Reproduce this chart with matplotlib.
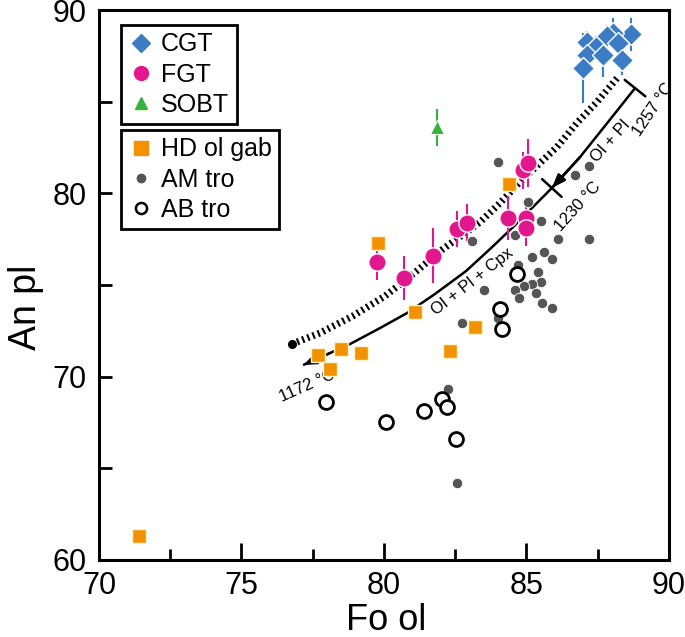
import matplotlib
matplotlib.use('Agg')
import matplotlib.pyplot as plt
from matplotlib.lines import Line2D
import numpy as np

plt.rcParams['font.family'] = ['Liberation Sans', 'DejaVu Sans']

# ---------------- data ----------------
cgt_fo = [88.67, 88.04, 87.82, 87.12, 87.44, 88.21, 87.12, 87.68, 88.35, 86.98]
cgt_an = [88.69, 88.75, 88.58, 88.25, 87.98, 88.20, 87.55, 87.55, 87.27, 86.84]
cgt_err = [0.9, 0.8, 0.6, 0.6, 0.6, 0.6, 0.8, 1.2, 0.8, 1.9]

fgt_fo = [79.75, 80.70, 81.72, 82.56, 82.90, 84.35, 85.00, 85.00, 84.88, 85.05]
fgt_an = [76.25, 75.40, 76.60, 78.05, 78.40, 78.65, 78.65, 78.10, 81.25, 81.65]
fgt_err = [1.0, 1.2, 1.5, 1.0, 1.0, 1.2, 1.1, 1.0, 1.0, 1.3]

sobt_fo = [81.86]
sobt_an = [83.6]
sobt_err = [1.0]

hd_fo = [71.4, 77.7, 78.5, 79.2, 78.1, 82.3, 83.2, 81.1, 79.8, 84.4]
hd_an = [61.3, 71.2, 71.5, 71.3, 70.4, 71.4, 72.7, 73.5, 77.3, 80.5]

am_fo = [84.0, 86.7, 87.2, 85.05, 85.5, 83.1, 84.6, 86.1, 87.2, 85.2, 85.6, 85.9,
         84.7, 85.4, 85.5, 85.2, 84.9, 84.6, 84.75, 85.35, 85.55, 85.9, 83.5, 84.0,
         82.75, 82.25, 82.55]
am_an = [81.7, 81.0, 81.5, 79.5, 78.5, 77.4, 77.7, 77.5, 77.5, 76.5, 76.8, 76.4,
         76.1, 75.7, 75.15, 75.05, 74.95, 74.7, 74.3, 74.55, 74.0, 73.75, 74.7, 73.2,
         72.9, 69.3, 64.2]

ab_fo = [84.67, 84.07, 84.14, 77.96, 80.07, 81.4, 82.04, 82.2, 82.53]
ab_an = [75.6, 73.7, 72.6, 68.6, 67.5, 68.1, 68.8, 68.35, 66.6]

# model curve (dotted)
model_fo = [76.77, 77.75, 78.91, 80.04, 81.02, 82.07, 83.37, 84.07, 84.77, 85.47,
            86.07, 86.77, 87.47, 88.21]
model_an = [71.78, 72.38, 73.31, 74.40, 75.60, 76.96, 78.43, 79.47, 80.62, 81.65,
            82.53, 83.84, 84.98, 86.34]

# crystallisation path (solid arrow)
path_fo = [77.16, 78.11, 78.81, 79.86, 80.81, 81.79, 82.88, 83.72, 84.53, 85.89,
           86.88, 87.75, 88.81]
path_an = [70.63, 71.29, 71.78, 72.65, 73.47, 74.51, 75.76, 76.96, 78.16, 80.29,
           81.98, 83.67, 85.74]
i1230 = 9

C_CGT = '#3B7CC4'
C_FGT = '#E2178D'
C_SOBT = '#36B33A'
C_HD = '#F39200'
C_AM = '#555555'

fig = plt.figure(figsize=(6.85, 6.37), dpi=100)
ax = fig.add_axes([0.1445, 0.1209, 0.8321, 0.8634])
ax.set_xlim(70, 90)
ax.set_ylim(60, 90)

# solid path
ax.plot(path_fo[:-1], path_an[:-1], color='black', lw=1.8, zorder=2,
        solid_capstyle='butt')
ax.annotate('', xy=(path_fo[0], path_an[0]), xytext=(path_fo[1], path_an[1]),
            arrowprops=dict(arrowstyle='-|>,head_length=0.8,head_width=0.3',
                            color='black', lw=1.8, shrinkA=0, shrinkB=0), zorder=2)
ax.annotate('', xy=(path_fo[-1], path_an[-1]), xytext=(path_fo[-2], path_an[-2]),
            arrowprops=dict(arrowstyle='|-|,widthA=0,widthB=0.95',
                            color='black', lw=1.8, shrinkA=0, shrinkB=0), zorder=2)
ax.annotate('', xy=(path_fo[i1230 + 1], path_an[i1230 + 1]),
            xytext=(path_fo[i1230], path_an[i1230]),
            arrowprops=dict(arrowstyle='|-|,widthA=0.95,widthB=0',
                            color='black', lw=1.8, shrinkA=0, shrinkB=0), zorder=2)
mx = path_fo[i1230] + 0.6 * (path_fo[i1230 + 1] - path_fo[i1230])
my = path_an[i1230] + 0.6 * (path_an[i1230 + 1] - path_an[i1230])
ax.annotate('', xy=(path_fo[i1230], path_an[i1230]), xytext=(mx, my),
            arrowprops=dict(arrowstyle='-|>,head_length=0.8,head_width=0.3',
                            color='black', lw=1.8, shrinkA=0, shrinkB=0), zorder=2)

# dotted model curve
ax.plot(model_fo, model_an, color='black', lw=5, dashes=(0.3, 0.5), zorder=2.5)
ax.plot(model_fo[:1], model_an[:1], 'o', color='black', ms=5.5, zorder=2.6)

# error bars
ax.errorbar(cgt_fo, cgt_an, yerr=cgt_err, fmt='none', ecolor=C_CGT, elinewidth=1.5,
            capsize=0, zorder=3)
ax.errorbar(fgt_fo, fgt_an, yerr=fgt_err, fmt='none', ecolor=C_FGT, elinewidth=1.5,
            capsize=0, zorder=3)
ax.errorbar(sobt_fo, sobt_an, yerr=sobt_err, fmt='none', ecolor=C_SOBT,
            elinewidth=1.5, capsize=0, zorder=3)

# points
ax.plot(am_fo, am_an, 'o', color=C_AM, ms=7.5, mec='white', mew=0.6, ls='none', zorder=4)
ax.plot(ab_fo, ab_an, 'o', mfc='white', mec='black', ms=10, mew=2, ls='none', zorder=4)
ax.plot(hd_fo, hd_an, 's', color=C_HD, ms=10.5, mec='#FFF3D0', mew=1.0, ls='none', zorder=5)
ax.plot(fgt_fo, fgt_an, 'o', color=C_FGT, ms=12.5, mec='white', mew=1.0, ls='none', zorder=5)
ax.plot(cgt_fo, cgt_an, 'D', color=C_CGT, ms=11, mec='white', mew=1.0, ls='none', zorder=5)
ax.plot(sobt_fo, sobt_an, '^', color=C_SOBT, ms=10, mec='white', mew=0.8, ls='none', zorder=5)

# annotations
afs = 12
ax.text(77.3, 69.5, '1172 °C', fontsize=afs, rotation=24, ha='center', va='center')
ax.text(83.12, 75.2, 'Ol + Pl + Cpx', fontsize=afs, rotation=38, ha='center', va='center')
ax.text(86.8, 79.3, '1230 °C', fontsize=afs, rotation=48, ha='center', va='center')
ax.text(87.95, 82.85, 'Ol + Pl', fontsize=afs, rotation=48, ha='center', va='center')
ax.text(89.45, 84.6, '1257 °C', fontsize=afs, rotation=56, ha='center', va='center')

# axes styling
for s in ax.spines.values():
    s.set_linewidth(2.2)
ax.set_xticks([70, 75, 80, 85, 90])
ax.set_xticks([72.5, 77.5, 82.5, 87.5], minor=True)
ax.set_yticks([60, 70, 80, 90])
ax.set_yticks([65, 75, 85], minor=True)
ax.tick_params(axis='both', which='both', direction='in', width=2, labelsize=22)
ax.tick_params(axis='x', which='major', length=12, pad=8)
ax.tick_params(axis='x', which='minor', length=8)
ax.tick_params(axis='y', which='both', length=9, pad=9)
ax.set_xlabel('Fo ol', fontsize=26)
ax.set_ylabel('An pl', fontsize=27)
ax.xaxis.set_label_coords(0.503, -0.079)
ax.yaxis.set_label_coords(-0.097, 0.46)

# legends
h1 = [Line2D([], [], marker='D', color=C_CGT, ls='none', ms=9.5),
      Line2D([], [], marker='o', color=C_FGT, ls='none', ms=10),
      Line2D([], [], marker='^', color=C_SOBT, ls='none', ms=8.5)]
h2 = [Line2D([], [], marker='s', color=C_HD, ls='none', ms=10),
      Line2D([], [], marker='o', color=C_AM, ls='none', ms=6),
      Line2D([], [], marker='o', mfc='white', mec='black', mew=1.8, ls='none', ms=8)]
common = dict(loc='upper left', fontsize=18, frameon=True, fancybox=False,
              framealpha=1, edgecolor='black', borderaxespad=0, handlelength=1.0,
              handletextpad=0.3, labelspacing=0.25, borderpad=0.3)
leg1 = ax.legend(h1, ['CGT', 'FGT', 'SOBT'], bbox_to_anchor=(0.0386, 0.973), **common)
leg1.get_frame().set_linewidth(2)
ax.add_artist(leg1)
leg2 = ax.legend(h2, ['HD ol gab', 'AM tro', 'AB tro'], bbox_to_anchor=(0.0386, 0.782),
                 **common)
leg2.get_frame().set_linewidth(2)

fig.savefig('out.png', dpi=100)
